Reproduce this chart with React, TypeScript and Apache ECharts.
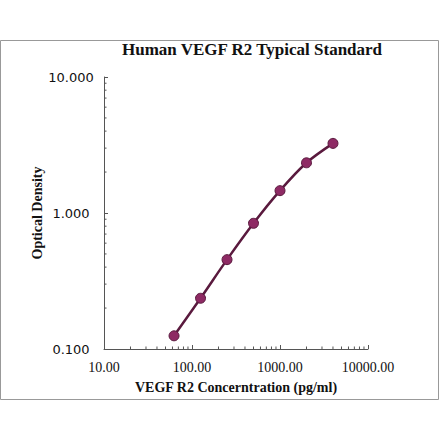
import React, { useEffect, useRef } from "react";
import * as echarts from "echarts";

// standard curve data
const concentrations = [62.5, 125, 250, 500, 1000, 2000, 4000];
const odValues = [0.125, 0.236, 0.454, 0.84, 1.46, 2.34, 3.25];
const xDecades = [10, 100, 1000];
const yDecades = [0.1, 1];
const minorSteps = [2, 3, 4, 5, 6, 7, 8, 9];

const StandardCurve: React.FC = () => {
  const chartRef = useRef<HTMLDivElement | null>(null);

  useEffect(() => {
    if (!chartRef.current) return;
    const chart = echarts.init(chartRef.current, undefined, { renderer: "svg" });

    // minor ticks at 2..9 of each decade
    const xMinor: number[][] = [];
    xDecades.forEach((d) => minorSteps.forEach((s) => xMinor.push([d * s, 0.1])));
    const yMinor: number[][] = [];
    yDecades.forEach((d) => minorSteps.forEach((s) => yMinor.push([10, d * s])));

    const axisColor = "#555";

    const option = {
      animation: false,
      title: {
        text: "Human VEGF R2 Typical Standard",
        left: 247,
        top: 36,
        textAlign: "center",
        textStyle: {
          fontFamily: "Liberation Serif",
          fontWeight: "bold",
          fontSize: 17,
          color: "#111",
        },
      },
      graphic: [
        {
          type: "rect",
          shape: { x: 0.5, y: 40.5, width: 438, height: 359 },
          style: { fill: "none", stroke: "#999", lineWidth: 1 },
          silent: true,
        },
      ],
      grid: { left: 104, right: 72, top: 77, bottom: 92 },
      xAxis: {
        type: "log",
        logBase: 10,
        min: 10,
        max: 10000,
        name: "VEGF R2 Concerntration (pg/ml)",
        nameLocation: "middle",
        nameGap: 31,
        nameMoveOverlap: false,
        nameTextStyle: {
          fontFamily: "Liberation Serif",
          fontWeight: "bold",
          fontSize: 14,
          color: "#111",
        },
        axisLine: { lineStyle: { color: axisColor, width: 1 } },
        axisTick: { inside: true, length: 4, lineStyle: { color: axisColor } },
        splitLine: { show: false },
        axisLabel: {
          margin: 11,
          fontFamily: "Liberation Serif",
          fontSize: 14,
          color: "#111",
          formatter: (v: number) => v.toFixed(2),
        },
      },
      yAxis: {
        type: "log",
        logBase: 10,
        min: 0.1,
        max: 10,
        name: "Optical Density",
        nameLocation: "middle",
        nameGap: 60,
        nameMoveOverlap: false,
        nameTextStyle: {
          fontFamily: "Liberation Serif",
          fontWeight: "bold",
          fontSize: 14,
          color: "#111",
        },
        axisLine: { show: true, lineStyle: { color: axisColor, width: 1 } },
        axisTick: { show: true, inside: true, length: 4, lineStyle: { color: axisColor } },
        splitLine: { show: false },
        axisLabel: {
          margin: 33,
          align: "center",
          fontFamily: "DejaVu Sans",
          fontSize: 13,
          color: "#111",
          formatter: (v: number) => v.toFixed(3),
        },
      },
      series: [
        {
          type: "custom",
          silent: true,
          data: xMinor,
          renderItem: (params: any, api: any) => {
            const p = api.coord([api.value(0), api.value(1)]);
            return {
              type: "line",
              shape: { x1: p[0], y1: p[1], x2: p[0], y2: p[1] - 2.5 },
              style: { stroke: axisColor, lineWidth: 1 },
            };
          },
          z: 1,
        },
        {
          type: "custom",
          silent: true,
          data: yMinor,
          renderItem: (params: any, api: any) => {
            const p = api.coord([api.value(0), api.value(1)]);
            return {
              type: "line",
              shape: { x1: p[0], y1: p[1], x2: p[0] + 2.5, y2: p[1] },
              style: { stroke: axisColor, lineWidth: 1 },
            };
          },
          z: 1,
        },
        {
          type: "line",
          data: concentrations.map((c, i) => [c, odValues[i]]),
          smooth: 0.3,
          symbol: "circle",
          symbolSize: 10,
          lineStyle: { color: "#5a1a3e", width: 2.5 },
          itemStyle: { color: "#8e2a64", borderColor: "#5a1a3e", borderWidth: 1 },
          z: 3,
        },
      ],
    };

    chart.setOption(option);
    return () => {
      chart.dispose();
    };
  }, []);

  return (
    <div
      ref={chartRef}
      style={{ position: "fixed", left: 0, top: 0, width: "440px", height: "441px", background: "#fff" }}
    />
  );
};

export default function App() {
  return <StandardCurve />;
}
